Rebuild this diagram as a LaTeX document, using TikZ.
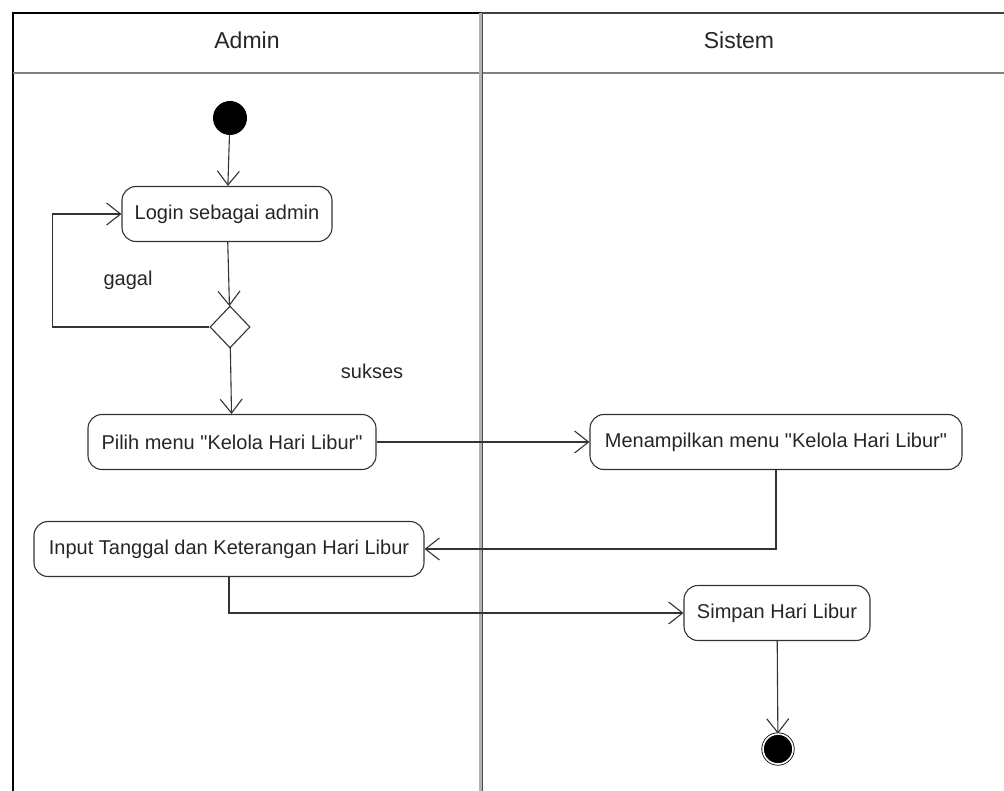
\documentclass[tikz,border=0pt]{standalone}
\usepackage{fontspec}
\newfontfamily\arial{Liberation Sans}
\usetikzlibrary{arrows.meta,shapes.geometric}

\begin{document}
\begin{tikzpicture}[x=1pt, y=-1pt,
    aksi/.style={draw=black!80, line width=1.1pt, rounded corners=14pt, minimum height=55pt,
        inner xsep=10pt, font=\arial\fontsize{20}{24}\selectfont, text=black!85},
    alur/.style={draw=black!80, line width=1.1pt, -{Straight Barb[length=14pt, width=22pt]}},
    ket/.style={font=\arial\fontsize{20}{24}\selectfont, text=black!85},
    judul/.style={font=\arial\fontsize{23}{27}\selectfont, text=black!85}]
    \useasboundingbox (0,0) rectangle (1004,791);

    % swimlane
    \draw[line width=1.4pt] (13,791) -- (13,13) -- (480.5,13);
    \draw[black!75, line width=1.4pt] (480.5,13) -- (1004,13);
    \draw[gray, line width=1.6pt] (13,73) -- (1004,73);
    \draw[draw=black!70, double=gray!60, double distance=2.4pt, line width=0.8pt] (480.5,13) -- (480.5,791);
    \node[judul] (admin) at (247,40) {Admin};
    \node[judul] (sistem) at (739,40) {Sistem};

    % aktivitas
    \node[circle, fill=black, minimum size=34pt, inner sep=0pt] (mulai) at (230,118) {};
    \node[aksi, minimum width=210pt] (login) at (227,214) {Login sebagai admin};
    \node[diamond, draw=black!80, line width=1.1pt, minimum width=40pt, minimum height=42pt, inner sep=0pt] (cek) at (230,327) {};
    \node[aksi, minimum width=288pt] (pilih) at (232,442) {Pilih menu "Kelola Hari Libur"};
    \node[aksi, minimum width=372pt] (tampil) at (776,442) {Menampilkan menu "Kelola Hari Libur"};
    \node[aksi, minimum width=390pt] (input) at (229,549) {Input Tanggal dan Keterangan Hari Libur};
    \node[aksi, minimum width=186pt] (simpan) at (777,613) {Simpan Hari Libur};
    \node[circle, fill=black, draw=black, line width=0.8pt, double=white, double distance=1.6pt,
        minimum size=30pt, inner sep=0pt] (selesai) at (778,749) {};

    \node[ket] (gagal) at (128,280) {gagal};
    \node[ket] (sukses) at (372,371) {sukses};

    % alur
    \draw[alur] (mulai) -- (login);
    \draw[alur] (login) -- (cek);
    \draw[alur] (cek.west) -- ++(-157,0) |- (login.west);
    \draw[alur] (cek) -- (pilih);
    \draw[alur] (pilih) -- (tampil);
    \draw[alur] (tampil.south) |- (input.east);
    \draw[alur] (input.south) |- (simpan.west);
    \draw[alur] (simpan) -- (selesai);
\end{tikzpicture}
\end{document}
